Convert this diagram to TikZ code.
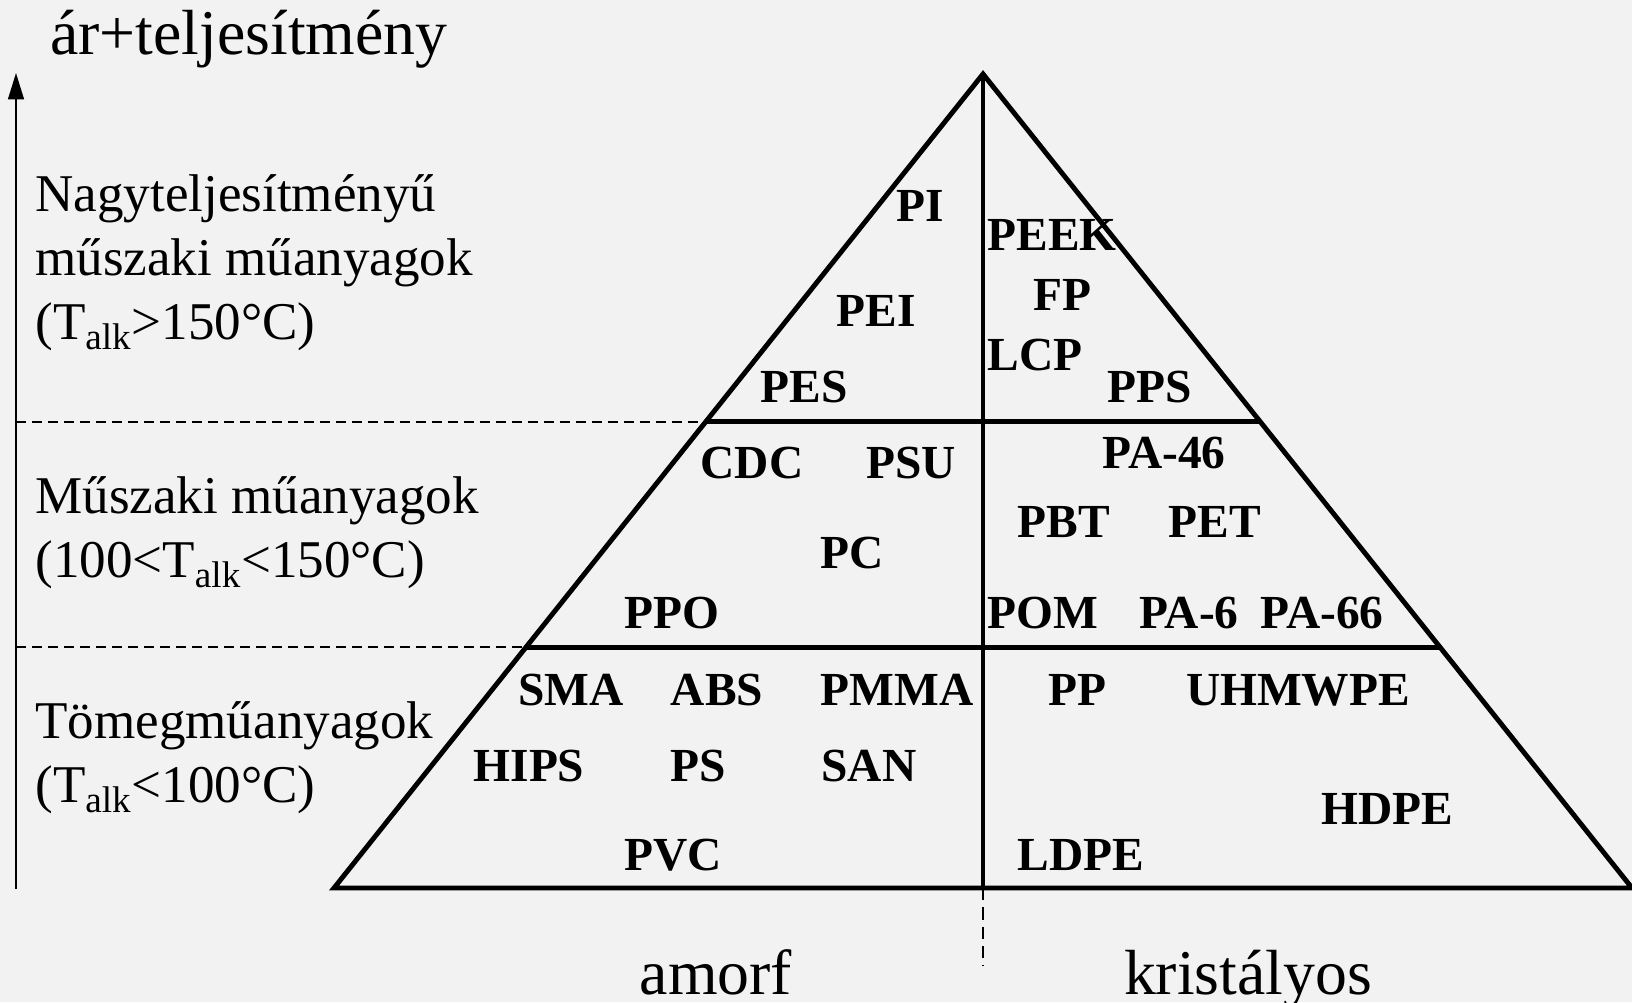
\documentclass[tikz,border=0pt]{standalone}
\usepackage{fontspec}
\setmainfont{Liberation Serif}
\usetikzlibrary{arrows.meta,calc}
\definecolor{hatter}{HTML}{F2F2F2}
\tikzset{
  polimer/.style={font=\fontsize{27}{32}\selectfont\bfseries, anchor=base, inner sep=0pt},
  szint/.style={font=\fontsize{30.2}{36.3}\selectfont, anchor=base west, align=left, inner sep=0pt},
  felirat/.style={font=\fontsize{36.3}{42}\selectfont, inner sep=0pt},
  vonal/.style={line width=2.8pt},
  szaggatott/.style={line width=1.1pt, dash pattern=on 5.7pt off 3.4pt},
}

\begin{document}
\begin{tikzpicture}[x=0.02cm, y=-0.02cm]
    % háttér
    \fill[hatter] (0,0) rectangle (1632,1002);
    \useasboundingbox (0,0) rectangle (1632,1002);

    % piramis
    \coordinate (csucs) at (983,74);
    \coordinate (bal) at (334,888);
    \coordinate (jobb) at (1632,888);
    \coordinate (kozep) at (983,888);
    \coordinate (h1bal) at ($(csucs)!0.427!(bal)$);
    \coordinate (h1jobb) at ($(csucs)!0.427!(jobb)$);
    \coordinate (h2bal) at ($(csucs)!0.7044!(bal)$);
    \coordinate (h2jobb) at ($(csucs)!0.7044!(jobb)$);
    \draw[vonal, line join=miter] (bal) -- (csucs) -- (jobb) -- cycle;
    \draw[vonal] (csucs) -- (kozep);
    \draw[vonal] (h1bal) -- (h1jobb);
    \draw[vonal] (h2bal) -- (h2jobb);
    \coordinate (kozepalj) at (983,966);
    \draw[line width=0.9pt, dash pattern=on 7pt off 4pt] (kozep) -- (kozepalj);

    % függőleges tengely és szintek határai
    \coordinate (tengelyalj) at (16,889);
    \coordinate (tengelycsucs) at (16,73);
    \draw[line width=1.1pt, -{Triangle[length=15pt,width=9pt]}] (tengelyalj) -- (tengelycsucs);
    \draw[szaggatott] (tengelyalj |- h1bal) -- (h1bal);
    \draw[szaggatott] (tengelyalj |- h2bal) -- (h2bal);

    % feliratok (a szintek utolsó sorának alapvonalánál)
    \node[felirat, anchor=base west] (cim) at (50,54) {ár+teljesítmény};
    \node[felirat, anchor=base] (amorf) at (716,994) {amorf};
    \node[felirat, anchor=base] (kristalyos) at (1248,994) {kristályos};
    \node[szint] (nagy) at (35,339) {Nagyteljesítményű\\műszaki műanyagok\\(T\textsubscript{alk}>150°C)};
    \node[szint] (muszaki) at (35,577) {Műszaki műanyagok\\(100<T\textsubscript{alk}<150°C)};
    \node[szint] (tomeg) at (35,802) {Tömegműanyagok\\(T\textsubscript{alk}<100°C)};

    % nagyteljesítményű
    \node[polimer] (pi) at (920,221) {PI};
    \node[polimer] (pei) at (876,326) {PEI};
    \node[polimer] (pes) at (804,402) {PES};
    \node[polimer] (peek) at (1052,250) {PEEK};
    \node[polimer] (fp) at (1062,310) {FP};
    \node[polimer] (lcp) at (1035,370) {LCP};
    \node[polimer] (pps) at (1150,402) {PPS};

    % műszaki
    \node[polimer] (cdc) at (752,478) {CDC};
    \node[polimer] (psu) at (911,478) {PSU};
    \node[polimer] (pc) at (852,568) {PC};
    \node[polimer] (ppo) at (672,628) {PPO};
    \node[polimer] (pa46) at (1164,468) {PA-46};
    \node[polimer] (pbt) at (1064,537) {PBT};
    \node[polimer] (pet) at (1215,537) {PET};
    \node[polimer] (pom) at (1043,628) {POM};
    \node[polimer] (pa6) at (1189,628) {PA-6};
    \node[polimer] (pa66) at (1322,628) {PA-66};

    % tömeg
    \node[polimer] (sma) at (571,705) {SMA};
    \node[polimer] (abs) at (717,705) {ABS};
    \node[polimer] (pmma) at (897,705) {PMMA};
    \node[polimer] (hips) at (529,781) {HIPS};
    \node[polimer] (ps) at (698,781) {PS};
    \node[polimer] (san) at (869,781) {SAN};
    \node[polimer] (pvc) at (673,870) {PVC};
    \node[polimer] (pp) at (1077,705) {PP};
    \node[polimer] (uhmwpe) at (1298,705) {UHMWPE};
    \node[polimer] (hdpe) at (1387,824) {HDPE};
    \node[polimer] (ldpe) at (1081,870) {LDPE};
\end{tikzpicture}
\end{document}
